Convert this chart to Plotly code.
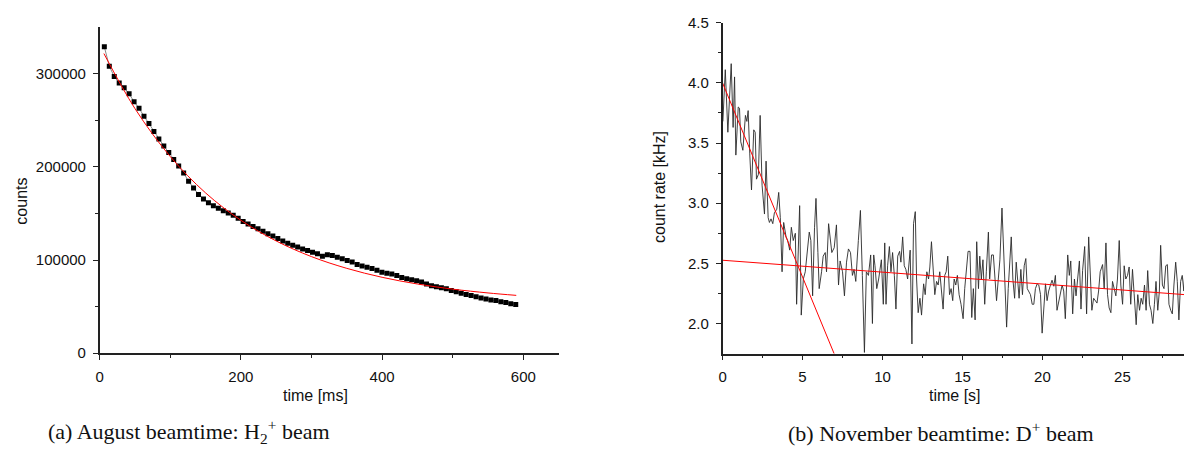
import plotly.graph_objects as go

# ---------------- Panel (a): August beamtime, H2+ beam ----------------
t_a_start = 6.6
t_a_step = 7.02
counts_a = [
    328900, 308200, 297000, 290000, 285000, 278500, 270000, 263000, 254500, 246500,
    238000, 230000, 222500, 215500, 208000, 201000, 193500, 184500, 177500, 170500,
    165500, 161500, 158300, 155500, 153000, 150500, 148000, 145000, 141500, 138800,
    136000, 133500, 131000, 128300, 125800, 123200, 120500, 118000, 116000, 114000,
    112000, 110200, 108500, 106800, 104200, 105800, 104800, 103000, 101300, 99600,
    97800, 95300, 93700, 92300, 91000, 89000, 87000, 85800, 85000, 83400,
    81300, 80000, 78900, 77900, 76500, 74400, 72500, 71400, 70300, 69300,
    67300, 65900, 64500, 63100, 62000, 60700, 59300, 58300, 57200, 56500,
    55200, 54400, 53200, 52300,
]
time_a = [round(t_a_start + i * t_a_step, 2) for i in range(len(counts_a))]

fit_a_t = [6, 50, 100, 150, 200, 250, 300, 350, 400, 450, 500, 550, 590]
fit_a_v = [321700, 262600, 211100, 172100, 142700, 120500, 103700, 91100,
           81500, 74300, 68800, 64700, 62100]

# ---------------- Panel (b): November beamtime, D+ beam ----------------
time_b = [
    0.02, 0.17, 0.33, 0.54, 0.66, 0.75, 0.83, 0.98, 1.06, 1.14, 1.27, 1.43, 1.52, 1.60, 1.70,
    1.81, 1.95, 2.04, 2.12, 2.24, 2.35, 2.47, 2.62, 2.72, 2.85, 2.93, 3.03, 3.14, 3.24, 3.39,
    3.51, 3.61, 3.72, 3.82, 3.97, 4.07, 4.20, 4.30, 4.42, 4.55, 4.63, 4.82, 4.92, 5.05, 5.17,
    5.30, 5.42, 5.52, 5.63, 5.75, 5.84, 5.96, 6.04, 6.19, 6.29, 6.42, 6.50, 6.63, 6.77, 6.83,
    6.98, 7.12, 7.25, 7.35, 7.50, 7.62, 7.75, 7.87, 8.00, 8.12, 8.22, 8.33, 8.49, 8.62, 8.74,
    8.87, 8.99, 9.12, 9.26, 9.37, 9.45, 9.53, 9.64, 9.76, 9.93, 10.05, 10.14, 10.22, 10.32,
    10.43, 10.53, 10.63, 10.74, 10.84, 10.95, 11.07, 11.15, 11.26, 11.36, 11.46, 11.57, 11.73,
    11.84, 11.94, 12.05, 12.13, 12.23, 12.34, 12.44, 12.57, 12.67, 12.77, 12.88, 12.96, 13.06,
    13.17, 13.27, 13.38, 13.48, 13.58, 13.69, 13.79, 13.89, 13.98, 14.08, 14.19, 14.29, 14.39,
    14.48, 14.58, 14.68, 14.79, 14.91, 15.04, 15.14, 15.25, 15.35, 15.47, 15.58, 15.68, 15.79,
    15.89, 16.00, 16.08, 16.18, 16.28, 16.39, 16.49, 16.62, 16.70, 16.82, 16.93, 17.03, 17.13,
    17.24, 17.34, 17.47, 17.57, 17.67, 17.76, 17.86, 17.97, 18.05, 18.15, 18.26, 18.36, 18.46,
    18.54, 18.65, 18.75, 18.86, 18.96, 19.05, 19.15, 19.25, 19.36, 19.46, 19.56, 19.67, 19.77,
    19.88, 19.98, 20.08, 20.19, 20.29, 20.39, 20.50, 20.60, 20.71, 20.81, 20.91, 21.02, 21.12,
    21.23, 21.33, 21.43, 21.58, 21.68, 21.77, 21.89, 22.00, 22.10, 22.20, 22.31, 22.41, 22.51,
    22.64, 22.76, 22.89, 22.99, 23.09, 23.20, 23.30, 23.41, 23.51, 23.61, 23.76, 23.86, 23.97,
    24.07, 24.17, 24.28, 24.38, 24.49, 24.59, 24.69, 24.80, 24.90, 25.01, 25.11, 25.21, 25.32,
    25.42, 25.52, 25.63, 25.73, 25.86, 25.96, 26.07, 26.17, 26.27, 26.38, 26.48, 26.58, 26.69,
    26.79, 26.90, 27.00, 27.10, 27.21, 27.31, 27.39, 27.50, 27.60, 27.71, 27.81, 27.91, 28.02,
    28.12, 28.22, 28.33, 28.43, 28.53, 28.64, 28.74, 28.84, 28.90,
]
rate_b = [
    3.68, 4.11, 3.59, 4.16, 3.63, 4.05, 3.40, 3.80, 3.79, 3.51, 3.44, 3.73, 3.68, 3.77, 3.41,
    3.11, 3.61, 3.59, 3.20, 3.24, 3.73, 3.15, 2.91, 3.35, 2.88, 2.84, 2.87, 2.83, 2.92, 2.95,
    3.09, 2.88, 2.43, 2.84, 2.72, 2.69, 2.61, 2.80, 2.69, 2.75, 2.16, 2.98, 2.07, 2.37, 2.43,
    2.64, 2.76, 2.69, 2.23, 2.80, 3.04, 2.59, 2.29, 2.43, 2.56, 2.59, 2.43, 2.83, 2.69, 2.59,
    2.63, 2.82, 2.32, 2.52, 2.43, 2.23, 2.51, 2.62, 2.59, 2.40, 2.45, 2.35, 2.69, 2.94, 2.40,
    1.76, 2.43, 2.40, 2.57, 2.00, 2.57, 2.48, 2.29, 2.37, 2.53, 2.16, 2.67, 2.16, 2.48,
    2.64, 2.43, 2.59, 2.40, 2.12, 2.56, 2.60, 2.51, 2.72, 2.48, 2.45, 2.37, 2.61,
    1.83, 2.83, 2.93, 2.37, 2.09, 2.21, 2.07, 2.33, 2.24, 2.43, 2.37, 2.47, 2.68,
    2.47, 2.24, 2.35, 2.32, 2.43, 2.27, 2.12, 2.40, 2.43, 2.56, 2.24, 2.29, 2.19,
    2.37, 2.32, 2.40, 2.24, 2.16, 2.04, 2.29, 2.48, 2.60, 2.60, 2.05, 2.29, 2.03,
    2.68, 2.29, 2.56, 2.37, 2.53, 2.16, 2.43, 2.76, 2.37, 2.57, 2.57, 2.37, 2.19,
    2.37, 2.53, 2.96, 2.59, 2.21, 1.97, 2.29, 2.60, 2.72, 2.37, 2.21, 2.51, 2.29,
    2.21, 2.45, 2.24, 2.48, 2.54, 2.29, 2.27, 2.24, 2.16, 2.16, 2.29, 2.33, 2.32,
    2.24, 1.92, 2.16, 2.33, 2.19, 2.27, 2.32, 2.36, 2.31, 2.40, 2.11, 2.19, 2.24,
    2.32, 2.27, 2.04, 2.57, 2.40, 2.52, 2.08, 2.37, 2.23, 2.37, 2.52, 2.12, 2.44,
    2.64, 2.08, 2.72, 2.35, 2.11, 2.21, 2.19, 2.17, 2.27, 2.43, 2.49, 2.29, 2.67,
    2.24, 2.13, 2.09, 2.35, 2.29, 2.23, 2.37, 2.69, 2.32, 2.16, 2.48, 2.37, 2.40,
    2.47, 2.16, 2.45, 2.25, 1.99, 2.24, 2.11, 2.21, 2.16, 2.32, 2.11, 2.44, 2.16,
    2.11, 2.00, 2.16, 2.35, 2.11, 2.27, 2.65, 2.32, 2.29, 2.48, 2.49, 2.16, 2.11,
    2.08, 2.32, 2.51, 2.35, 2.03, 2.35, 2.40, 2.27, 2.44,
]

fit_b_fast_t = [0.0, 7.5]
fit_b_fast_v = [4.00, 1.58]
fit_b_slow_t = [0.0, 28.9]
fit_b_slow_v = [2.526, 2.240]

# ---------------- Figure ----------------
W, H = 1184, 464
fig = go.Figure()

fig.add_trace(go.Scatter(
    x=time_a, y=counts_a, mode="lines+markers",
    line=dict(color="#8a8a8a", width=1),
    marker=dict(symbol="square", size=5, color="black", line=dict(width=0)),
    xaxis="x", yaxis="y", showlegend=False))
fig.add_trace(go.Scatter(
    x=fit_a_t, y=fit_a_v, mode="lines", line=dict(color="red", width=1, shape="spline"),
    xaxis="x", yaxis="y", showlegend=False))

fig.add_trace(go.Scatter(
    x=time_b, y=rate_b, mode="lines", line=dict(color="#2a2a2a", width=0.9),
    xaxis="x2", yaxis="y2", showlegend=False))
fig.add_trace(go.Scatter(
    x=fit_b_fast_t, y=fit_b_fast_v, mode="lines", line=dict(color="red", width=1),
    xaxis="x2", yaxis="y2", showlegend=False))
fig.add_trace(go.Scatter(
    x=fit_b_slow_t, y=fit_b_slow_v, mode="lines", line=dict(color="red", width=1),
    xaxis="x2", yaxis="y2", showlegend=False))

tickfont = dict(family="Liberation Sans, Arial, sans-serif", size=15, color="#111")
axis_common = dict(showline=True, linecolor="#222", linewidth=1.5, ticks="outside",
                   ticklen=5, tickwidth=1.2, tickcolor="#222", showgrid=False,
                   zeroline=False, tickfont=tickfont, mirror=False)
minor_style = dict(ticks="outside", ticklen=3, tickwidth=1.2, tickcolor="#222")

fig.update_layout(
    width=W, height=H, margin=dict(l=0, r=0, t=0, b=0),
    paper_bgcolor="white", plot_bgcolor="white",
    xaxis=dict(domain=[96 / W, 556.5 / W], range=[0, 650], anchor="y",
               tickvals=[0, 200, 400, 600], ticklabelstandoff=4,
               minor=dict(tickvals=[100, 300, 500], **minor_style),
               **axis_common),
    yaxis=dict(domain=[(H - 357.3) / H, (H - 18.9) / H], range=[0, 350000], anchor="x",
               tickvals=[0, 100000, 200000, 300000], tickformat="d", ticklabelstandoff=4,
               minor=dict(tickvals=[50000, 150000, 250000], **minor_style),
               **axis_common),
    xaxis2=dict(domain=[721 / W, 1.0], range=[0, 28.85], anchor="y2",
                tickvals=[0, 5, 10, 15, 20, 25], ticklabelstandoff=4,
                minor=dict(tickvals=[2.5, 7.5, 12.5, 17.5, 22.5, 27.5], **minor_style),
                **axis_common),
    yaxis2=dict(domain=[(H - 357.7) / H, (H - 14.3) / H], range=[1.75, 4.5], anchor="x2",
                tickvals=[2.0, 2.5, 3.0, 3.5, 4.0, 4.5], tickformat=".1f", ticklabelstandoff=4,
                minor=dict(tickvals=[2.25, 2.75, 3.25, 3.75, 4.25], **minor_style),
                **axis_common),
)

title_font = dict(family="Liberation Sans, Arial, sans-serif", size=16, color="#111")
cap_font = dict(family="Liberation Serif, DejaVu Serif, serif", size=22, color="#111")

def ann(text, x, y, font, angle=0):
    fig.add_annotation(text=text, x=x / W, y=(H - y) / H, xref="paper", yref="paper",
                       showarrow=False, font=font, textangle=angle,
                       xanchor="center", yanchor="middle")

ann("counts", 18, 199, title_font, -90)
ann("time [ms]", 313, 401, title_font)
ann("count rate [kHz]", 657, 185, title_font, -90)
ann("time [s]", 954, 401, title_font)
ann("(a) August beamtime: H<sub>2</sub><sup>+</sup> beam", 186, 439, cap_font)
ann("(b) November beamtime: D<sup>+</sup> beam", 940, 439, cap_font)

fig.write_html("out.html")
